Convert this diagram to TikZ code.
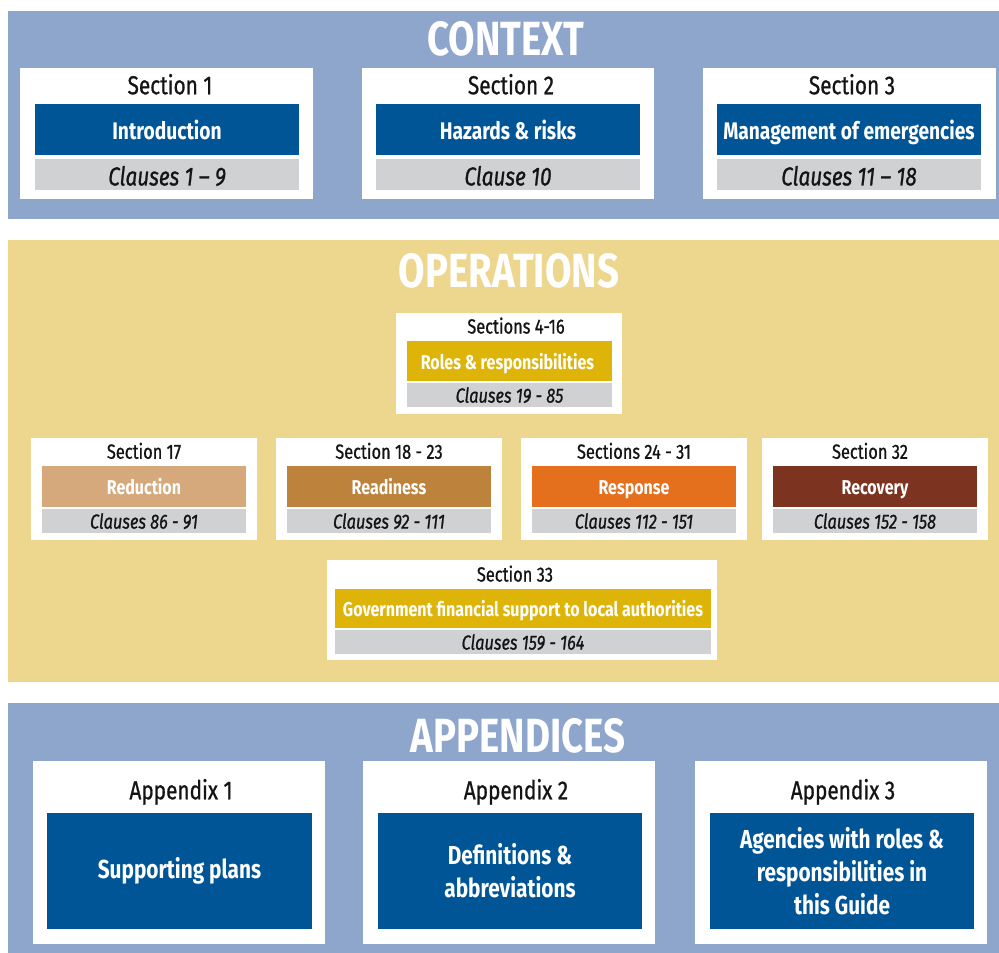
\documentclass[tikz,border=0pt]{standalone}
\usepackage{fontspec}
\setmainfont[FakeStretch=0.8]{Fira Sans}
\newfontfamily\heavyreg[FakeStretch=0.8,FakeBold=0.8]{Fira Sans}
\definecolor{panelblue}{HTML}{8EA5CC}
\definecolor{panelyel}{HTML}{EDD68E}
\definecolor{darkblue}{HTML}{005597}
\definecolor{barg}{HTML}{D0D1D3}
\definecolor{gold}{HTML}{DFB408}
\definecolor{reduc}{HTML}{D5A97B}
\definecolor{readi}{HTML}{BD823B}
\definecolor{respo}{HTML}{E4701E}
\definecolor{recov}{HTML}{7C3420}
\definecolor{txt}{HTML}{141414}
\begin{document}
\begin{tikzpicture}[x=1pt,y=-1pt,
  panel/.style={anchor=north west, inner sep=0pt, outer sep=0pt},
  wbox/.style={anchor=north west, inner sep=0pt, outer sep=0pt, fill=white},
  bar/.style={anchor=north west, inner sep=0pt, outer sep=0pt},
  title/.style={text=white, font=\fontsize{48}{48}\selectfont\bfseries},
  bigtext/.style={inner sep=0pt, text height=16.5pt, text depth=0pt, yshift=-2pt, text=white, font=\fontsize{24}{24}\selectfont\bfseries},
  bighead/.style={inner sep=0pt, text height=17.9pt, text depth=0pt, text=txt, font=\heavyreg\fontsize{26}{26}\selectfont},
  bigcl/.style={inner sep=0pt, text height=17.9pt, text depth=0pt, yshift=-2pt, text=txt, font=\heavyreg\fontsize{26}{26}\selectfont\itshape},
  smhead/.style={inner sep=0pt, text height=14.1pt, text depth=0pt, text=txt, font=\heavyreg\fontsize{20.5}{20.5}\selectfont},
  smtext/.style={inner sep=0pt, text height=13.8pt, text depth=0pt, yshift=-1.2pt, text=white, font=\fontsize{20}{20}\selectfont\bfseries},
  smcl/.style={inner sep=0pt, text height=14.1pt, text depth=0pt, yshift=-0.6pt, text=txt, font=\heavyreg\fontsize{20.5}{20.5}\selectfont\itshape},
  aptext/.style={text=white, font=\fontsize{26}{33}\selectfont\bfseries, align=center}
]
\useasboundingbox (0,0) rectangle (999,953);
% ---------------- CONTEXT ----------------
\node[panel, fill=panelblue, minimum width=991pt, minimum height=208pt] (ctx) at (8,11) {};
\node[title] (ctxt) at (506,39) {CONTEXT};
% Section 1
\node[wbox, minimum width=293pt, minimum height=131pt] (s1) at (20,68) {};
\node[bighead] (s1h) at (170,85.3) {Section 1};
\node[bar, fill=darkblue, minimum width=264pt, minimum height=51pt] (s1b) at (35,104) {};
\node[bigtext] at (s1b.center) {Introduction};
\node[bar, fill=barg, minimum width=264pt, minimum height=31pt] (s1c) at (35,159) {};
\node[bigcl] at (s1c.center) {Clauses 1 – 9};
% Section 2
\node[wbox, minimum width=292pt, minimum height=131pt] (s2) at (362,68) {};
\node[bighead] (s2h) at (511,85.3) {Section 2};
\node[bar, fill=darkblue, minimum width=264pt, minimum height=51pt] (s2b) at (376,104) {};
\node[bigtext] at (s2b.center) {Hazards \& risks};
\node[bar, fill=barg, minimum width=264pt, minimum height=31pt] (s2c) at (376,159) {};
\node[bigcl] at (s2c.center) {Clause 10};
% Section 3
\node[wbox, minimum width=293pt, minimum height=131pt] (s3) at (703,68) {};
\node[bighead] (s3h) at (852,85.3) {Section 3};
\node[bar, fill=darkblue, minimum width=264pt, minimum height=51pt] (s3b) at (717,104) {};
\node[bigtext] at (s3b.center) {Management of emergencies};
\node[bar, fill=barg, minimum width=264pt, minimum height=31pt] (s3c) at (717,159) {};
\node[bigcl] at (s3c.center) {Clauses 11 – 18};
% ---------------- OPERATIONS ----------------
\node[panel, fill=panelyel, minimum width=991pt, minimum height=442pt] (ops) at (8,240) {};
\node[title] (opst) at (509,271) {OPERATIONS};
% Sections 4-16
\node[wbox, minimum width=226pt, minimum height=101pt] (s4) at (396,313) {};
\node[smhead] at (516,326.5) {Sections 4-16};
\node[bar, fill=gold, minimum width=205pt, minimum height=40pt] (s4b) at (407,341) {};
\node[smtext] at ([xshift=-2pt]s4b.center) {Roles \& responsibilities};
\node[bar, fill=barg, minimum width=205pt, minimum height=24pt] (s4c) at (407,383) {};
\node[smcl] at (s4c.center) {Clauses 19 - 85};
% Section 17
\node[wbox, minimum width=226pt, minimum height=102pt] (s17) at (31,438) {};
\node[smhead] at (144,451.7) {Section 17};
\node[bar, fill=reduc, minimum width=204pt, minimum height=41pt] (s17b) at (42,466) {};
\node[smtext] at (s17b.center) {Reduction};
\node[bar, fill=barg, minimum width=204pt, minimum height=24pt] (s17c) at (42,509) {};
\node[smcl] at (s17c.center) {Clauses 86 - 91};
% Section 18-23
\node[wbox, minimum width=226pt, minimum height=102pt] (s18) at (276,438) {};
\node[smhead] at (389,451.7) {Section 18 - 23};
\node[bar, fill=readi, minimum width=204pt, minimum height=41pt] (s18b) at (287,466) {};
\node[smtext] at (s18b.center) {Readiness};
\node[bar, fill=barg, minimum width=204pt, minimum height=24pt] (s18c) at (287,509) {};
\node[smcl] at (s18c.center) {Clauses 92 - 111};
% Sections 24-31
\node[wbox, minimum width=226pt, minimum height=102pt] (s24) at (521,438) {};
\node[smhead] at (634,451.7) {Sections 24 - 31};
\node[bar, fill=respo, minimum width=204pt, minimum height=41pt] (s24b) at (532,466) {};
\node[smtext] at (s24b.center) {Response};
\node[bar, fill=barg, minimum width=204pt, minimum height=24pt] (s24c) at (532,509) {};
\node[smcl] at (s24c.center) {Clauses 112 - 151};
% Section 32
\node[wbox, minimum width=226pt, minimum height=102pt] (s32) at (762,438) {};
\node[smhead] at (870,451.7) {Section 32};
\node[bar, fill=recov, minimum width=204pt, minimum height=41pt] (s32b) at (773,466) {};
\node[smtext] at (s32b.center) {Recovery};
\node[bar, fill=barg, minimum width=204pt, minimum height=24pt] (s32c) at (773,509) {};
\node[smcl] at (s32c.center) {Clauses 152 - 158};
% Section 33
\node[wbox, minimum width=390pt, minimum height=100pt] (s33) at (327,560) {};
\node[smhead] at (515,574.5) {Section 33};
\node[bar, fill=gold, minimum width=376pt, minimum height=39pt] (s33b) at (335,589) {};
\node[smtext] at (s33b.center) {Government financial support to local authorities};
\node[bar, fill=barg, minimum width=376pt, minimum height=24pt] (s33c) at (335,630) {};
\node[smcl] at (s33c.center) {Clauses 159 - 164};
% ---------------- APPENDICES ----------------
\node[panel, fill=panelblue, minimum width=991pt, minimum height=250pt] (app) at (8,703) {};
\node[title] (appt) at (518,736) {APPENDICES};
% Appendix 1
\node[wbox, minimum width=292pt, minimum height=183pt] (a1) at (33,761) {};
\node[bighead] at (181,790.3) {Appendix 1};
\node[bar, fill=darkblue, minimum width=265pt, minimum height=116pt] (a1b) at (47,813) {};
\node[aptext] at (a1b.center) {Supporting plans};
% Appendix 2
\node[wbox, minimum width=292pt, minimum height=183pt] (a2) at (363,761) {};
\node[bighead] at (516,790.3) {Appendix 2};
\node[bar, fill=darkblue, minimum width=264pt, minimum height=116pt] (a2b) at (378,813) {};
\node[aptext] at (a2b.center) {Definitions \&\\abbreviations};
% Appendix 3
\node[wbox, minimum width=292pt, minimum height=183pt] (a3) at (695,761) {};
\node[bighead] at (843,790.3) {Appendix 3};
\node[bar, fill=darkblue, minimum width=264pt, minimum height=116pt] (a3b) at (710,813) {};
\node[aptext] at (a3b.center) {Agencies with roles \&\\responsibilities in\\this Guide};
\end{tikzpicture}
\end{document}
